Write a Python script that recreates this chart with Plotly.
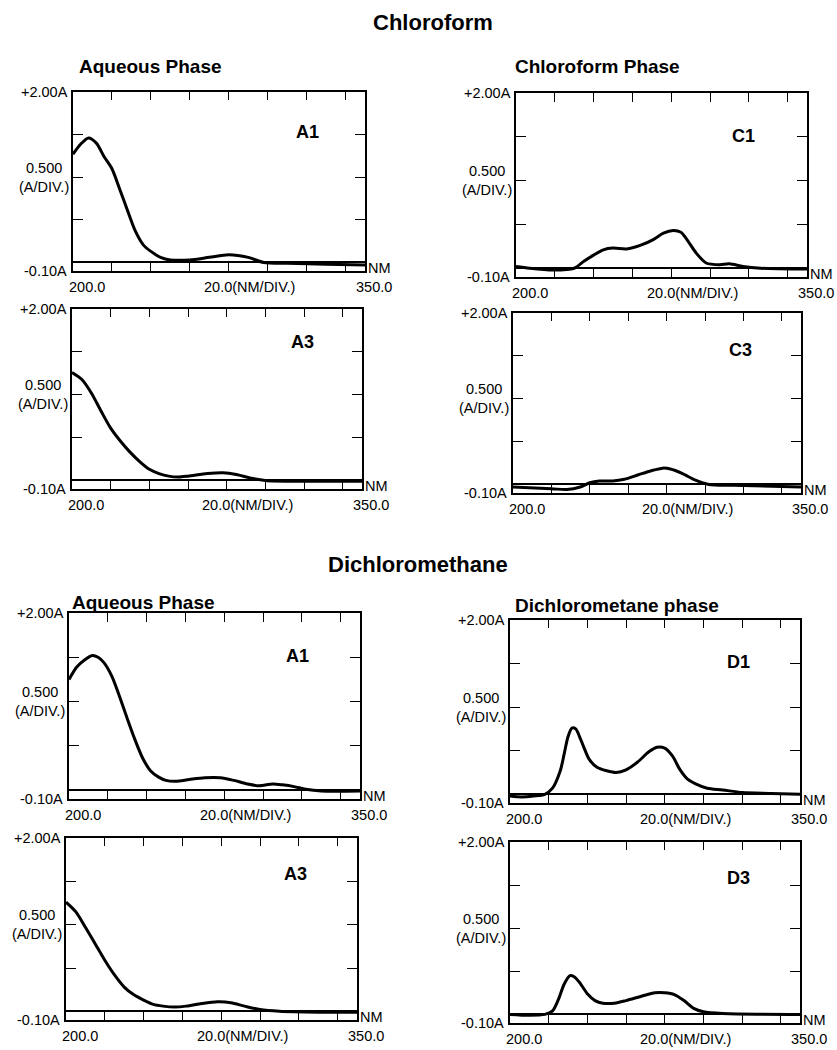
import plotly.graph_objects as go

W, H = 837, 1050

# ---------------- data (wavelength nm, absorbance A) ----------------
wl_cf_aq_a1 = [200, 204, 208, 212, 216, 220, 224, 228, 232, 236, 240, 245, 250, 260, 270, 280, 290, 298, 310, 330, 350]
ab_cf_aq_a1 = [1.27, 1.39, 1.46, 1.40, 1.24, 1.10, 0.86, 0.61, 0.37, 0.21, 0.13, 0.06, 0.03, 0.03, 0.06, 0.09, 0.06, 0.00, -0.01, -0.02, -0.03]

wl_cf_c1 = [200, 207, 219, 230, 235, 240, 245, 250, 257, 264, 271, 276, 281, 285, 288, 293, 298, 305, 310, 317, 326, 350]
ab_cf_c1 = [0.02, 0.00, -0.02, 0.00, 0.08, 0.15, 0.21, 0.23, 0.22, 0.26, 0.33, 0.40, 0.43, 0.41, 0.33, 0.17, 0.06, 0.04, 0.05, 0.02, 0.00, -0.01]

wl_cf_aq_a3 = [200, 205, 210, 215, 220, 225, 230, 235, 240, 245, 250, 255, 260, 270, 278, 285, 292, 300, 320, 350]
ab_cf_aq_a3 = [1.26, 1.18, 1.02, 0.81, 0.61, 0.46, 0.33, 0.22, 0.13, 0.08, 0.05, 0.04, 0.05, 0.08, 0.09, 0.07, 0.03, 0.00, -0.01, -0.01]

wl_cf_c3 = [200, 220, 228, 235, 240, 245, 252, 258, 265, 272, 278, 282, 288, 295, 302, 315, 350]
ab_cf_c3 = [-0.03, -0.05, -0.06, -0.03, 0.02, 0.04, 0.04, 0.06, 0.11, 0.16, 0.19, 0.18, 0.13, 0.05, 0.00, -0.01, -0.03]

wl_dcm_aq_a1 = [200, 204, 208, 212, 215, 218, 222, 226, 230, 234, 238, 242, 246, 250, 255, 262, 270, 278, 285, 292, 298, 305, 310, 316, 322, 330, 350]
ab_dcm_aq_a1 = [1.25, 1.39, 1.47, 1.52, 1.50, 1.44, 1.29, 1.06, 0.81, 0.57, 0.36, 0.22, 0.15, 0.11, 0.10, 0.12, 0.14, 0.14, 0.11, 0.07, 0.05, 0.07, 0.06, 0.04, 0.01, -0.01, -0.01]

wl_dcm_d1 = [200, 206, 212, 218, 222, 226, 228, 230, 232, 234, 236, 238, 241, 245, 250, 255, 260, 266, 272, 276, 280, 284, 288, 292, 296, 302, 310, 320, 335, 350]
ab_dcm_d1 = [-0.02, -0.03, -0.02, 0.00, 0.07, 0.27, 0.46, 0.66, 0.76, 0.75, 0.66, 0.55, 0.40, 0.31, 0.27, 0.25, 0.28, 0.37, 0.49, 0.54, 0.53, 0.44, 0.28, 0.17, 0.12, 0.07, 0.05, 0.02, 0.01, 0.00]

wl_dcm_aq_a3 = [200, 205, 210, 215, 220, 225, 230, 235, 240, 245, 250, 256, 262, 270, 278, 285, 292, 300, 310, 330, 350]
ab_dcm_aq_a3 = [1.26, 1.15, 0.97, 0.78, 0.59, 0.42, 0.28, 0.19, 0.13, 0.08, 0.06, 0.05, 0.06, 0.09, 0.11, 0.10, 0.06, 0.02, 0.00, -0.01, -0.01]

wl_dcm_d3 = [200, 210, 218, 222, 225, 228, 231, 233, 236, 240, 244, 248, 254, 260, 268, 275, 280, 285, 290, 295, 300, 310, 350]
ab_dcm_d3 = [0.00, -0.01, 0.00, 0.04, 0.17, 0.35, 0.45, 0.44, 0.37, 0.24, 0.16, 0.13, 0.13, 0.16, 0.21, 0.25, 0.25, 0.23, 0.16, 0.07, 0.03, 0.01, 0.00]

panel_labels = ["A1", "C1", "A3", "C3", "A1", "D1", "A3", "D3"]
series = [
    (wl_cf_aq_a1, ab_cf_aq_a1), (wl_cf_c1, ab_cf_c1),
    (wl_cf_aq_a3, ab_cf_aq_a3), (wl_cf_c3, ab_cf_c3),
    (wl_dcm_aq_a1, ab_dcm_aq_a1), (wl_dcm_d1, ab_dcm_d1),
    (wl_dcm_aq_a3, ab_dcm_aq_a3), (wl_dcm_d3, ab_dcm_d3),
]

x_range = [200, 350]
y_range = [-0.1, 2.0]
x_ticks = [220, 240, 260, 280, 300, 320, 340]
y_ticks = [0.5, 1.0, 1.5]

section_titles = ["Chloroform", "Dichloromethane"]
sub_titles = ["Aqueous Phase", "Chloroform Phase", "Aqueous Phase", "Dichlorometane phase"]

# ---------------- layout geometry (pixels) ----------------
boxes = [  # left, right, top, bottom
    (73, 365, 92, 271), (516, 807, 93, 277),
    (72, 362, 309, 489), (513, 801, 313, 493),
    (69, 360, 613, 799), (510, 800, 620, 803),
    (66, 357, 838, 1020), (510, 800, 842, 1023),
]
label_pos = [(307, 132), (743, 136), (302, 342), (740, 350),
             (297, 656), (738, 662), (295, 874), (738, 878)]
title_pos = [(433, 23), (418, 564)]
sub_pos = [(77, 67), (513, 67), (70, 602), (513, 605)]

FONT = "Liberation Sans, Arial, Helvetica, sans-serif"


def px(x):
    return x / W


def py(y):
    return 1 - y / H


fig = go.Figure()
annotations = []

for i, ((wl, ab), box, lab, lp) in enumerate(zip(series, boxes, panel_labels, label_pos)):
    n = i + 1
    xa = "x" if n == 1 else f"x{n}"
    ya = "y" if n == 1 else f"y{n}"
    fig.add_trace(go.Scatter(
        x=wl, y=ab, mode="lines", xaxis=xa, yaxis=ya,
        line=dict(color="black", width=3, shape="spline", smoothing=0.8),
        showlegend=False, hoverinfo="skip"))
    l, r, t, b = box
    xkey = "xaxis" if n == 1 else f"xaxis{n}"
    ykey = "yaxis" if n == 1 else f"yaxis{n}"
    strip = (b - t) * 0.1 / 2.1
    fig.layout[xkey] = dict(
        domain=[px(l), px(r)], range=x_range, anchor=ya,
        showline=True, linecolor="black", linewidth=1.5, mirror="ticks",
        ticks="inside", tickvals=x_ticks, ticklen=strip, tickwidth=1.3, tickcolor="black",
        showticklabels=False, showgrid=False, zeroline=False, fixedrange=True)
    fig.layout[ykey] = dict(
        domain=[py(b), py(t)], range=y_range, anchor=xa,
        showline=True, linecolor="black", linewidth=1.5, mirror="ticks",
        ticks="inside", tickvals=y_ticks, ticklen=10, tickwidth=1.3, tickcolor="black",
        showticklabels=False, showgrid=False,
        zeroline=True, zerolinecolor="black", zerolinewidth=1.5, fixedrange=True)

    xd = f"{xa} domain"
    yd = f"{ya} domain"
    tf = dict(family=FONT, size=14.5, color="black")
    annotations += [
        dict(text="+2.00A", xref=xd, yref=yd, x=0, y=1, xanchor="right", yanchor="middle",
             xshift=-3, showarrow=False, font=tf),
        dict(text="0.500<br>(A/DIV.)", xref=xd, yref=ya, x=0, y=1.0, xanchor="right",
             yanchor="middle", align="center", xshift=-2, showarrow=False, font=tf),
        dict(text="-0.10A", xref=xd, yref=yd, x=0, y=0, xanchor="right", yanchor="middle",
             xshift=-4, showarrow=False, font=tf),
        dict(text="200.0", xref=xd, yref=yd, x=0, y=0, xanchor="center", yanchor="middle",
             xshift=14, yshift=-16, showarrow=False, font=tf),
        dict(text="20.0(NM/DIV.)", xref=xd, yref=yd, x=0.605, y=0, xanchor="center",
             yanchor="middle", yshift=-16, showarrow=False, font=tf),
        dict(text="350.0", xref=xd, yref=yd, x=1, y=0, xanchor="center", yanchor="middle",
             xshift=9, yshift=-16, showarrow=False, font=tf),
        dict(text="NM", xref=xd, yref=yd, x=1, y=0, xanchor="left", yanchor="middle",
             xshift=1, yshift=3, showarrow=False, font=tf),
        dict(text=f"<b>{lab}</b>", xref="paper", yref="paper", x=px(lp[0]), y=py(lp[1]),
             xanchor="center", yanchor="middle", showarrow=False,
             font=dict(family=FONT, size=18, color="black")),
    ]

for txt, (x, y) in zip(section_titles, title_pos):
    annotations.append(dict(text=f"<b>{txt}</b>", xref="paper", yref="paper", x=px(x), y=py(y),
                            xanchor="center", yanchor="middle", showarrow=False,
                            font=dict(family=FONT, size=22, color="black")))
for txt, (x, y) in zip(sub_titles, sub_pos):
    annotations.append(dict(text=f"<b>{txt}</b>", xref="paper", yref="paper", x=px(x), y=py(y),
                            xanchor="left", yanchor="middle", showarrow=False,
                            font=dict(family=FONT, size=19, color="black")))

fig.update_layout(
    width=W, height=H, margin=dict(l=0, r=0, t=0, b=0),
    paper_bgcolor="white", plot_bgcolor="white",
    annotations=annotations, showlegend=False,
    font=dict(family=FONT, color="black"),
)

fig.write_html(
    "out.html",
    config={"displayModeBar": False},
    post_script="document.body.style.margin='0px';document.body.style.padding='0px';"
                "document.body.style.overflow='hidden';",
)
